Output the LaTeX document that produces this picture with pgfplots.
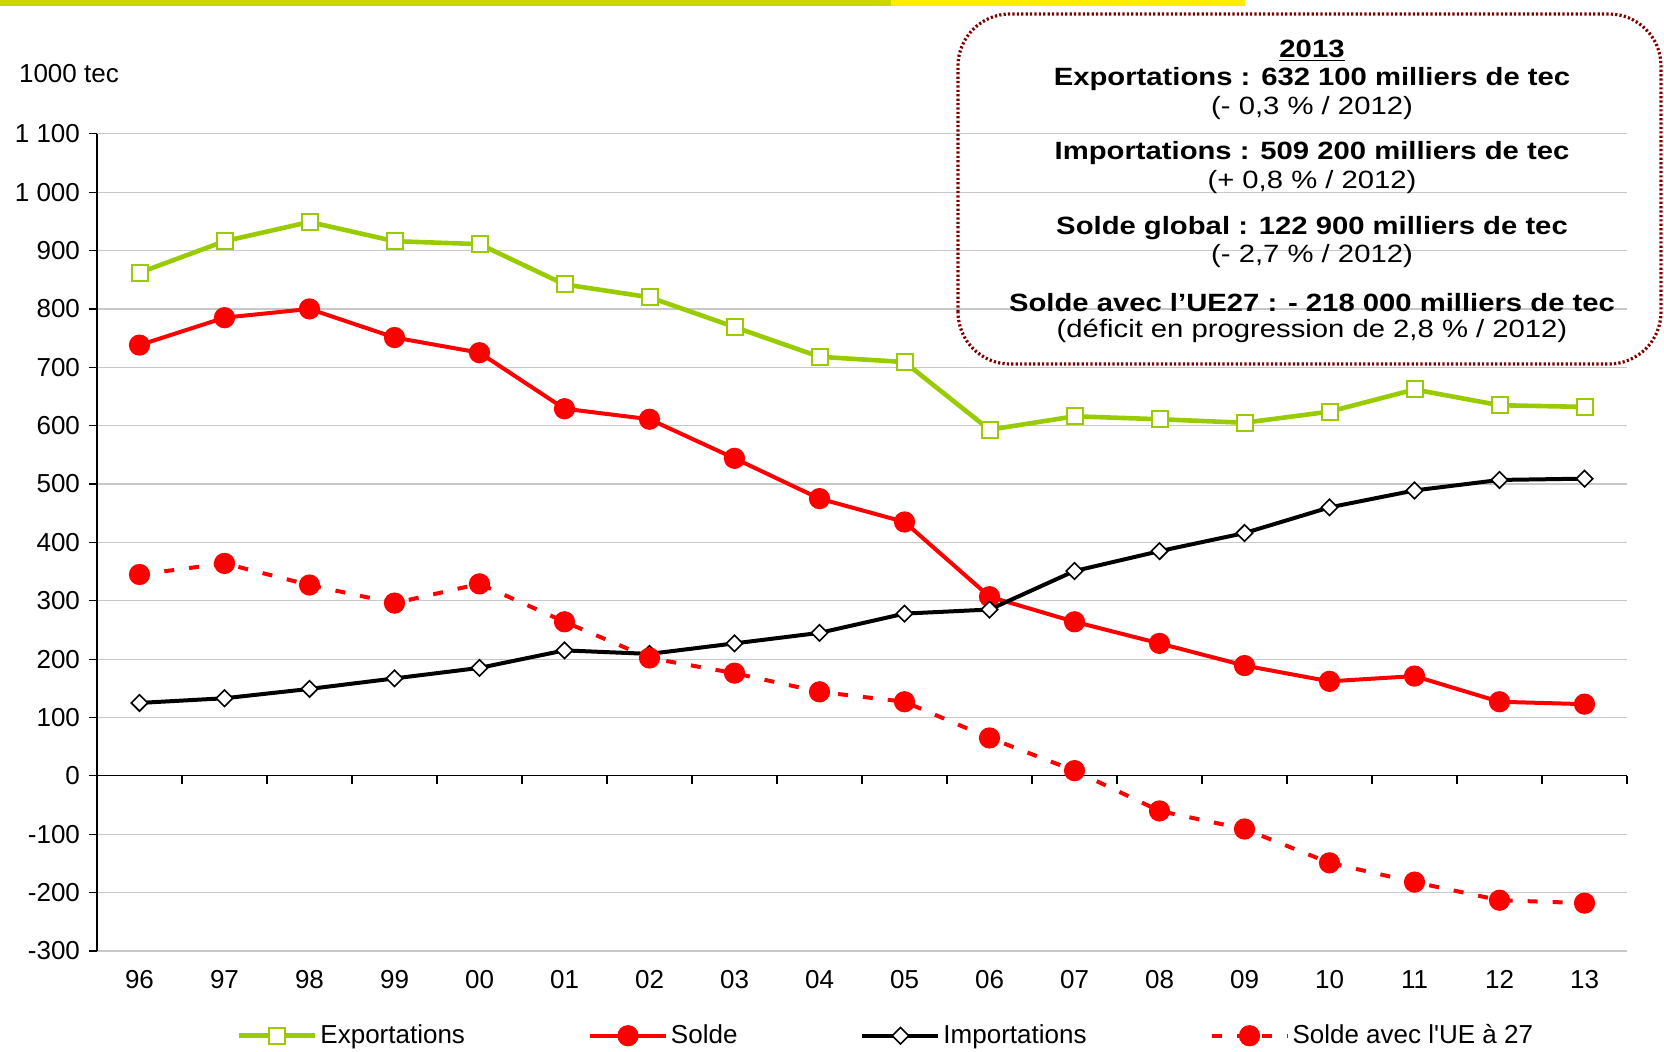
\documentclass[border=0pt]{standalone}
\usepackage{pgfplots}
\pgfplotsset{compat=1.18}
\usepackage{fontspec}
\setmainfont{Liberation Sans}
\usetikzlibrary{plotmarks}

\definecolor{vert}{RGB}{153,204,0}
\definecolor{rouge}{RGB}{255,0,0}
\definecolor{bordeaux}{RGB}{128,0,0}
\definecolor{barreA}{RGB}{204,214,0}
\definecolor{barreB}{RGB}{255,236,0}
\definecolor{grille}{RGB}{200,200,200}

\newcommand{\boxline}[1]{\scalebox{1.17}[1]{\fontsize{12.5}{14}\selectfont #1}}

\begin{document}
\begin{tikzpicture}
\path[use as bounding box] (0,0) rectangle (832pt,525.5pt);

% bandeau du haut
\fill[barreA] (0,522.5pt) rectangle (445.7pt,525.5pt);
\fill[barreB] (445.7pt,522.5pt) rectangle (622.4pt,525.5pt);

\node[anchor=west, font=\fontsize{13}{15}\selectfont] at (6pt,488.5pt) {1000 tec};

\begin{axis}[
    at={(48.5pt,50pt)}, anchor=south west,
    scale only axis,
    width=765pt, height=408.6pt,
    xmin=-0.5, xmax=17.5,
    ymin=-300, ymax=1100,
    clip=false,
    axis y line*=left, axis x line*=bottom,
    x axis line style={draw=none},
    xtick={0,...,17},
    xticklabels={96,97,98,99,00,01,02,03,04,05,06,07,08,09,10,11,12,13},
    xtick style={draw=none},
    ytick={-300,-200,...,1100},
    yticklabels={-300,-200,-100,0,100,200,300,400,500,600,700,800,900,1 000,1 100},
    tick align=outside,
    major tick length=4pt,
    ytick style={black, line width=0.6pt},
    y axis line style={black, line width=0.6pt},
    ymajorgrids,
    grid style={grille, line width=0.6pt},
    tick label style={font=\fontsize{13}{15}\selectfont},
    xticklabel style={yshift=-2.3pt},
    yticklabel style={xshift=-1pt},
    legend columns=4,
    legend style={
        at={(0.516,-0.1037)}, anchor=center,
        draw=none, fill=none,
        font=\fontsize{13}{15}\selectfont,
        /tikz/every even column/.append style={column sep=60pt},
        nodes={inner sep=1.5pt},
    },
    legend image code/.code={%
        \draw[mark repeat=2,mark phase=2,#1]
        plot coordinates {(0pt,0pt) (19pt,0pt) (38pt,0pt)};},
]

\addplot[vert, line width=2.3pt, mark=square*,
    mark options={solid, fill=white, draw=vert, line width=1pt}, mark size=4pt]
coordinates {
    (0,862)(1,916)(2,949)(3,916)(4,911)(5,842)(6,820)(7,769)(8,718)
    (9,709)(10,593)(11,616)(12,611)(13,605)(14,624)(15,662)(16,635)(17,632.1)
}; \addlegendentry{Exportations}

\addplot[rouge, line width=2pt, mark=*,
    mark options={solid, fill=rouge, draw=rouge}, mark size=4.3pt]
coordinates {
    (0,738)(1,785)(2,800)(3,751)(4,725)(5,629)(6,611)(7,544)(8,475)
    (9,435)(10,307)(11,264)(12,227)(13,189)(14,162)(15,171)(16,127)(17,122.9)
}; \addlegendentry{Solde}

\addplot[black, line width=2pt, mark=square*,
    mark options={solid, fill=white, draw=black, line width=0.8pt, rotate=45}, mark size=2.9pt]
coordinates {
    (0,125)(1,133)(2,149)(3,167)(4,185)(5,215)(6,209)(7,227)(8,245)
    (9,278)(10,285)(11,351)(12,385)(13,416)(14,460)(15,489)(16,507)(17,509.2)
}; \addlegendentry{Importations}

\addplot[rouge, line width=2pt, dash pattern=on 5pt off 7.5pt, mark=*,
    mark options={solid, fill=rouge, draw=rouge}, mark size=4.3pt]
coordinates {
    (0,345)(1,364)(2,327)(3,296)(4,329)(5,264)(6,202)(7,176)(8,144)
    (9,127)(10,65)(11,9)(12,-60)(13,-91)(14,-149)(15,-182)(16,-213)(17,-218)
}; \addlegendentry{Solde avec l\textquotesingle UE à 27}

% axe des abscisses sur le zéro
\draw[black, line width=0.6pt] (axis cs:-0.5,0) -- (axis cs:17.5,0);
\pgfplotsinvokeforeach{0.5,1.5,...,17.5}{
    \draw[black, line width=0.6pt] (axis cs:#1,0) -- ([yshift=-4pt]axis cs:#1,0);
}
\end{axis}

% encadré 2013
\draw[bordeaux, line width=1.6pt, dash pattern=on 1.1pt off 1.1pt, rounded corners=26pt]
    (479pt,343.5pt) rectangle (830.5pt,518.5pt);
\begin{scope}[yshift=-1.4pt]
\node at (656pt,501.6pt) {\boxline{\bfseries\underline{2013}}};
\node at (656pt,487.3pt) {\boxline{\bfseries Exportations : 632 100 milliers de tec}};
\node at (656pt,473pt) {\boxline{(- 0,3 \% / 2012)}};
\node at (656pt,450.2pt) {\boxline{\bfseries Importations : 509 200 milliers de tec}};
\node at (656pt,435.8pt) {\boxline{(+ 0,8 \% / 2012)}};
\node at (656pt,413pt) {\boxline{\bfseries Solde global : 122 900 milliers de tec}};
\node at (656pt,398.7pt) {\boxline{(- 2,7 \% / 2012)}};
\node at (656pt,375.8pt) {\boxline{\bfseries Solde avec l’UE27 : - 218 000 milliers de tec}};
\node at (656pt,361.5pt) {\boxline{(déficit en progression de 2,8 \% / 2012)}};
\end{scope}
\end{tikzpicture}
\end{document}
